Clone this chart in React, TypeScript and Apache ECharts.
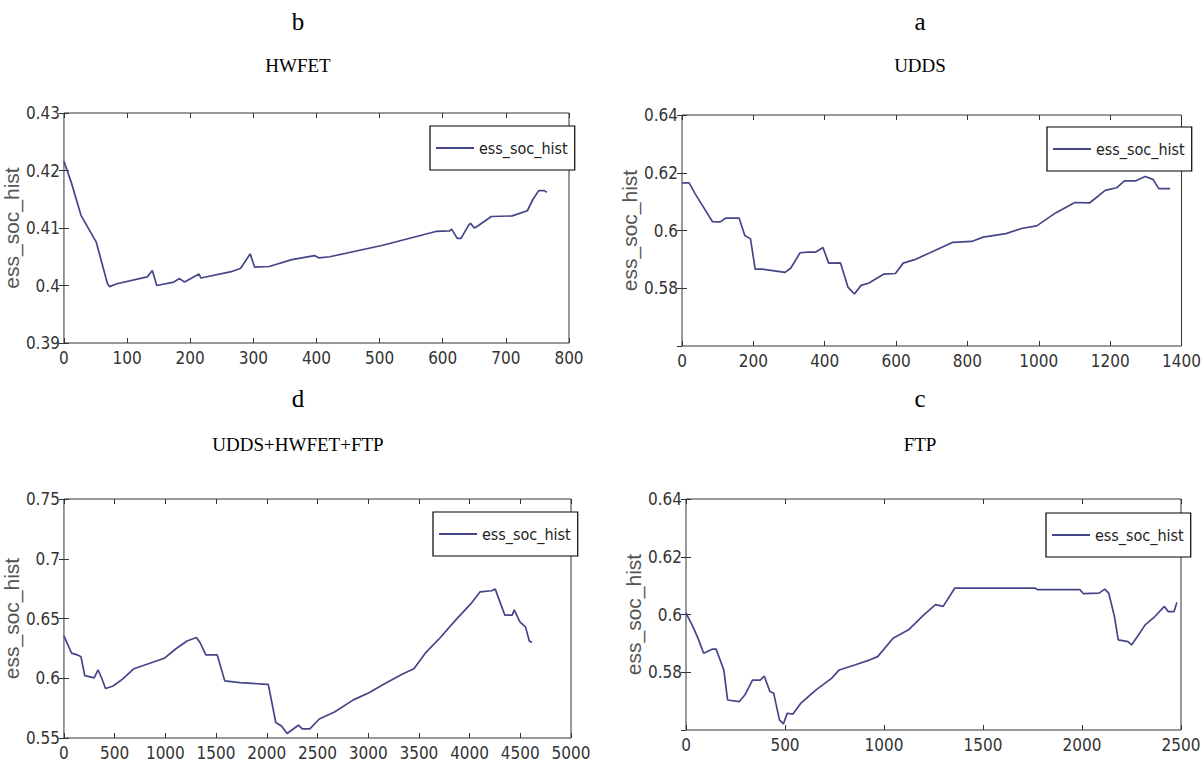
import React, { useEffect, useRef } from "react";
import * as echarts from "echarts";

// ---- data ----
const SERIES_NAME = "ess_soc_hist";
const Y_NAME = "ess_soc_hist";

// b: HWFET
const hwfetX = [0, 12, 27, 51, 69, 72, 84, 132, 140, 147, 174, 183, 191, 214, 217, 265, 280, 295, 302, 325, 361, 397, 404, 421, 505, 589, 611, 614, 623, 629, 641, 644, 650, 656, 677, 710, 734, 743, 752, 761, 765];
const hwfetY = [0.4216, 0.4178, 0.4122, 0.4076, 0.4003, 0.3998, 0.4003, 0.4015, 0.4026, 0.4, 0.4006, 0.4012, 0.4006, 0.402, 0.4013, 0.4024, 0.403, 0.4055, 0.4032, 0.4033, 0.4045, 0.4052, 0.4048, 0.405, 0.407, 0.4094, 0.4095, 0.4098, 0.4082, 0.4082, 0.4105, 0.4108, 0.41, 0.4104, 0.412, 0.4121, 0.413, 0.415, 0.4165, 0.4165, 0.4162];

// a: UDDS
const uddsX = [0, 20, 37, 64, 85, 107, 123, 160, 176, 192, 205, 224, 289, 305, 331, 353, 374, 395, 411, 444, 465, 483, 502, 524, 566, 598, 620, 652, 695, 727, 759, 812, 844, 908, 951, 994, 1047, 1101, 1143, 1186, 1218, 1240, 1272, 1298, 1320, 1336, 1368];
const uddsY = [0.6165, 0.6165, 0.6127, 0.6073, 0.6031, 0.603, 0.6043, 0.6043, 0.5983, 0.5971, 0.5866, 0.5866, 0.5855, 0.587, 0.5923, 0.5925, 0.5925, 0.5941, 0.5887, 0.5888, 0.5804, 0.578, 0.581, 0.5818, 0.5849, 0.5851, 0.5887, 0.5899, 0.5923, 0.5941, 0.5959, 0.5962, 0.5977, 0.5989, 0.6007, 0.6016, 0.6061, 0.6097, 0.6096, 0.6139, 0.6148, 0.6172, 0.6172, 0.6187, 0.6177, 0.6145, 0.6145];

// d: UDDS+HWFET+FTP
const comboX = [0, 75, 131, 168, 205, 298, 336, 373, 410, 485, 578, 690, 840, 989, 1101, 1213, 1306, 1343, 1399, 1511, 1586, 1735, 1996, 2015, 2089, 2145, 2201, 2257, 2313, 2350, 2425, 2518, 2668, 2854, 3003, 3153, 3339, 3451, 3563, 3712, 3862, 4011, 4104, 4216, 4253, 4309, 4347, 4421, 4440, 4496, 4552, 4589, 4615];
const comboY = [0.6355, 0.621, 0.6196, 0.618, 0.6022, 0.6003, 0.6071, 0.6, 0.5914, 0.5935, 0.5993, 0.608, 0.6123, 0.6167, 0.6245, 0.6312, 0.6341, 0.6297, 0.6196, 0.6196, 0.5978, 0.5964, 0.5949, 0.5949, 0.563, 0.5601, 0.5538, 0.5573, 0.5607, 0.5577, 0.5577, 0.5659, 0.5717, 0.5819, 0.5877, 0.5949, 0.6036, 0.608, 0.621, 0.6341, 0.6486, 0.6622, 0.6723, 0.6732, 0.6746, 0.6616, 0.6529, 0.6529, 0.6572, 0.6471, 0.6428, 0.6312, 0.63];

// c: FTP
const ftpX = [0, 35, 64, 89, 132, 152, 191, 210, 268, 297, 336, 375, 395, 424, 443, 472, 492, 511, 540, 579, 657, 735, 774, 852, 929, 968, 1046, 1124, 1201, 1260, 1299, 1357, 1765, 1775, 1989, 2008, 2086, 2115, 2135, 2164, 2183, 2232, 2251, 2280, 2319, 2368, 2416, 2436, 2465, 2479];
const ftpY = [0.6005, 0.5958, 0.5912, 0.5866, 0.588, 0.588, 0.5808, 0.5704, 0.5698, 0.5721, 0.5773, 0.5773, 0.5787, 0.5733, 0.5727, 0.5635, 0.5621, 0.5658, 0.5655, 0.5692, 0.5739, 0.5779, 0.5808, 0.5825, 0.5843, 0.5854, 0.5918, 0.5947, 0.5999, 0.6034, 0.6028, 0.6091, 0.6091, 0.6086, 0.6086, 0.6072, 0.6074, 0.6088, 0.6074, 0.5993, 0.5912, 0.5906, 0.5895, 0.5924, 0.5964, 0.5993, 0.6028, 0.601, 0.601, 0.6042];

const panelLetters = ["b", "a", "d", "c"];
const panelTitles = ["HWFET", "UDDS", "UDDS+HWFET+FTP", "FTP"];
const xRanges = [
  [0, 800, 100],
  [0, 1400, 200],
  [0, 5000, 500],
  [0, 2500, 500],
];
const yRanges = [
  [0.39, 0.43, 0.01],
  [0.56, 0.64, 0.02],
  [0.55, 0.75, 0.05],
  [0.56, 0.64, 0.02],
];
const hideYMin = [false, true, false, true];
const xs = [hwfetX, uddsX, comboX, ftpX];
const ys = [hwfetY, uddsY, comboY, ftpY];

// ---- layout ----
const grids = [
  { left: 62, top: 113, width: 507, height: 230 },
  { left: 682, top: 115, width: 502, height: 231 },
  { left: 62, top: 499, width: 509, height: 239 },
  { left: 686, top: 499, width: 495, height: 231 },
];
const legendPos = [
  { left: 430, top: 126 },
  { left: 1047, top: 127 },
  { left: 433, top: 512 },
  { left: 1046, top: 513 },
];
const titleCenters = [298, 920, 298, 920];
const letterY = [21, 21, 398, 398];
const nameY = [65, 65, 444, 444];

const NARROW = "'Liberation Sans Narrow', 'DejaVu Sans Condensed', 'Liberation Sans', Arial, sans-serif";
const SERIF = "'Liberation Serif', 'DejaVu Serif', serif";
const LINE_COLOR = "#45458a";
const AXIS_COLOR = "#333";

function zip(a: number[], b: number[]) {
  const n = Math.min(a.length, b.length);
  const out: number[][] = [];
  for (let i = 0; i < n; i++) out.push([a[i], b[i]]);
  return out;
}
const fmt = (v: number) => String(+v.toFixed(4));

export default function App() {
  const ref = useRef<HTMLDivElement>(null);
  useEffect(() => {
    if (!ref.current) return;
    const chart = echarts.init(ref.current, undefined, { renderer: "svg" });
    const xAxis: any[] = [];
    const yAxis: any[] = [];
    const series: any[] = [];
    const legend: any[] = [];
    const graphic: any[] = [];
    const tick = { show: true, inside: true, length: 5, lineStyle: { color: AXIS_COLOR } };
    for (let i = 0; i < 4; i++) {
      const [xmin, xmax, xint] = xRanges[i];
      const [ymin, ymax, yint] = yRanges[i];
      xAxis.push({
        type: "value", gridIndex: i, position: "bottom", min: xmin, max: xmax, interval: xint,
        axisLine: { show: false }, axisTick: tick, splitLine: { show: false },
        axisLabel: { fontFamily: NARROW, fontSize: 17, color: AXIS_COLOR, margin: 6, formatter: fmt },
      });
      xAxis.push({
        type: "value", gridIndex: i, position: "top", min: xmin, max: xmax, interval: xint,
        axisLine: { show: false }, axisTick: tick, splitLine: { show: false }, axisLabel: { show: false },
      });
      yAxis.push({
        type: "value", gridIndex: i, position: "left", min: ymin, max: ymax, interval: yint,
        axisLine: { show: false }, axisTick: tick, splitLine: { show: false },
        axisLabel: { fontFamily: NARROW, fontSize: 17, color: AXIS_COLOR, margin: 4, showMinLabel: !hideYMin[i], formatter: fmt },
        name: Y_NAME, nameLocation: "middle", nameGap: 32,
        nameTextStyle: { fontFamily: "'Liberation Sans', Arial, sans-serif", fontSize: 21, color: "#555" },
      });
      yAxis.push({
        type: "value", gridIndex: i, position: "right", min: ymin, max: ymax, interval: yint,
        axisLine: { show: false }, axisTick: tick, splitLine: { show: false }, axisLabel: { show: false },
      });
      series.push({
        name: SERIES_NAME, type: "line", xAxisIndex: 2 * i, yAxisIndex: 2 * i,
        data: zip(xs[i], ys[i]), showSymbol: false, symbol: "none",
        lineStyle: { color: LINE_COLOR, width: 1.7 }, itemStyle: { color: LINE_COLOR },
      });
      legend.push({
        data: [SERIES_NAME], left: legendPos[i].left, top: legendPos[i].top,
        icon: "rect", itemWidth: 38, itemHeight: 2,
        itemStyle: { color: LINE_COLOR },
        padding: [12, 7, 12, 6],
        borderColor: "#000", borderWidth: 1.2, backgroundColor: "#fff",
        textStyle: { fontFamily: NARROW, fontSize: 16, color: "#222", lineHeight: 20 },
        selectedMode: false,
      });
      graphic.push({
        type: "text", x: titleCenters[i], y: letterY[i],
        style: { text: panelLetters[i], fontFamily: SERIF, fontSize: 25, fill: "#000", align: "center", verticalAlign: "middle" },
      });
      graphic.push({
        type: "text", x: titleCenters[i], y: nameY[i],
        style: { text: panelTitles[i], fontFamily: SERIF, fontSize: 19, fill: "#000", align: "center", verticalAlign: "middle" },
      });
    }
    chart.setOption({
      animation: false,
      backgroundColor: "#fff",
      grid: grids.map((g) => ({ ...g, show: true, borderColor: AXIS_COLOR, borderWidth: 1, backgroundColor: "#fff", containLabel: false })),
      xAxis, yAxis, series, legend, graphic,
    });
    return () => chart.dispose();
  }, []);
  return <div ref={ref} style={{ position: "absolute", left: 0, top: 0, width: 1204, height: 764, background: "#fff" }} />;
}
